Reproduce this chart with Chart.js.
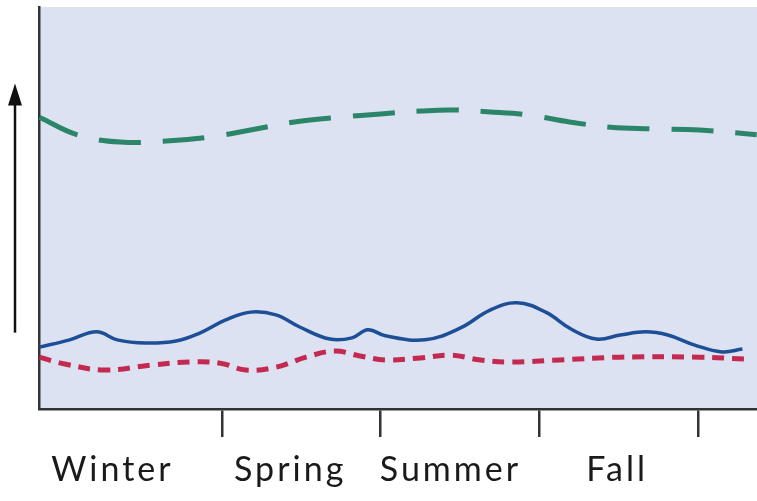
<!DOCTYPE html>
<html>
<head>
<meta charset="utf-8">
<script src="https://cdn.jsdelivr.net/npm/chart.js@4/dist/chart.umd.min.js"></script>
<style>
  html, body { margin: 0; padding: 0; background: #fff; }
  #wrap { width: 757px; height: 501px; }
</style>
</head>
<body>
<div id="wrap"><canvas id="myChart"></canvas></div>
<script>
// x is measured in seasons: tick 1..4 mark the season boundaries
const seasonTicks = [1, 2, 3, 4];
const seasonLabels = ["Winter", "Spring", "Summer", "Fall"];
const labelPositions = [0.31, 1.43, 2.44, 3.49];

const greenX = [-0.15, 0.09, 0.36, 0.67, 0.93, 1.18, 1.49, 1.75, 2.0, 2.25, 2.44, 2.69, 2.94, 3.19, 3.45, 3.7, 4.01, 4.37];
const greenY = [72.6, 68.2, 66.4, 66.7, 67.7, 69.4, 71.6, 72.6, 73.4, 74.1, 74.4, 73.9, 73.1, 71.4, 70.1, 69.7, 69.4, 68.2];

const blueX = [-0.15, 0.04, 0.21, 0.34, 0.52, 0.71, 0.86, 1.02, 1.18, 1.34, 1.49, 1.68, 1.82, 1.92, 2.03, 2.28, 2.5, 2.69, 2.86, 3.04, 3.2, 3.36, 3.51, 3.67, 3.81, 3.98, 4.15, 4.28];
const blueY = [15.4, 17.2, 19.2, 17.2, 16.4, 16.9, 18.9, 22.1, 24.1, 23.4, 20.4, 17.4, 17.7, 19.7, 18.2, 17.2, 20.1, 24.6, 26.4, 24.1, 19.9, 17.4, 18.4, 19.2, 18.4, 15.9, 14.2, 14.9];

const redX = [-0.15, 0.01, 0.26, 0.55, 0.8, 0.99, 1.15, 1.34, 1.53, 1.71, 1.87, 2.03, 2.25, 2.44, 2.63, 2.82, 3.13, 3.51, 4.01, 4.3];
const redY = [12.9, 11.2, 9.7, 10.9, 11.7, 11.4, 9.7, 10.4, 12.9, 14.4, 13.2, 12.2, 12.7, 13.4, 12.2, 11.7, 12.2, 12.9, 12.9, 12.4];

function toPoints(xs, ys) {
  return xs.map((x, i) => ({ x: x, y: ys[i] }));
}

const areaBackground = {
  id: "areaBackground",
  beforeDraw(chart) {
    const { ctx, chartArea: a } = chart;
    ctx.save();
    ctx.fillStyle = "#dce2f1";
    ctx.fillRect(a.left, a.top, a.right - a.left, a.bottom - a.top);
    ctx.restore();
    // wider spacing for the season names, like the original typeface
    ctx.letterSpacing = "3px";
  },
  afterDraw(chart) {
    chart.ctx.letterSpacing = "0px";
  }
};

// the upward arrow left of the y axis
const upArrow = {
  id: "upArrow",
  afterDraw(chart) {
    const { ctx, chartArea: a } = chart;
    const y = chart.scales.y;
    const x = a.left - 24;
    const y0 = y.getPixelForValue(19);
    const y1 = y.getPixelForValue(81);
    ctx.save();
    ctx.strokeStyle = "#111";
    ctx.fillStyle = "#111";
    ctx.lineWidth = 2.5;
    ctx.beginPath();
    ctx.moveTo(x, y0);
    ctx.lineTo(x, y1 + 15);
    ctx.stroke();
    ctx.beginPath();
    ctx.moveTo(x, y1);
    ctx.lineTo(x - 7, y1 + 22);
    ctx.lineTo(x + 7, y1 + 22);
    ctx.closePath();
    ctx.fill();
    ctx.restore();
  }
};

function createChart() {
  const ctx = document.getElementById("myChart").getContext("2d");
  new Chart(ctx, {
    type: "line",
    data: {
      datasets: [{
        data: toPoints(greenX, greenY),
        borderColor: "#2b8568",
        borderWidth: 5,
        borderDash: [42, 22],
      }, {
        data: toPoints(blueX, blueY),
        borderColor: "#1d4f97",
        borderWidth: 3.5,
      }, {
        data: toPoints(redX, redY),
        borderColor: "#c4294f",
        borderWidth: 5,
        borderDash: [12, 8],
      }],
    },
    options: {
      responsive: true,
      maintainAspectRatio: false,
      animation: false,
      layout: { padding: { top: 7, right: 0, left: 0, bottom: 0 } },
      elements: {
        point: { radius: 0 },
        line: { tension: 0.4, borderCapStyle: "butt" },
      },
      plugins: { legend: { display: false }, tooltip: { enabled: false } },
      scales: {
        x: {
          type: "linear",
          min: -0.153,
          max: 4.372,
          afterBuildTicks: s => { s.ticks = seasonTicks.map(v => ({ value: v })); },
          afterFit: s => { s.height = 30; },
          ticks: { display: false },
          grid: { drawOnChartArea: false, drawTicks: true, tickLength: 28, color: "#333", lineWidth: 2.5 },
          border: { color: "#333", width: 2.5 },
        },
        x2: {
          type: "linear",
          position: "bottom",
          min: -0.153,
          max: 4.372,
          afterBuildTicks: s => { s.ticks = labelPositions.map(v => ({ value: v })); },
          afterFit: s => { s.height = 62; },
          ticks: {
            callback: (v, i) => seasonLabels[i],
            font: { family: "Lato", size: 34 },
            color: "#1a1a1a",
            padding: 3,
            maxRotation: 0,
            autoSkip: false,
          },
          grid: { display: false },
          border: { display: false },
        },
        y: {
          min: 0,
          max: 100,
          afterFit: s => { s.width = 39; },
          ticks: { display: false },
          grid: { display: false },
          border: { color: "#333", width: 2.5 },
        },
      },
    },
    plugins: [areaBackground, upArrow],
  });
}

createChart();
</script>
</body>
</html>
